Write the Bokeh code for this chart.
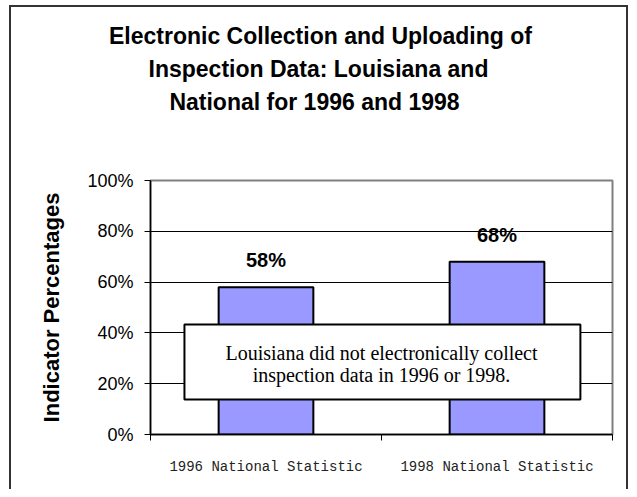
from bokeh.plotting import figure
from bokeh.models import (Range1d, FixedTicker, PrintfTickFormatter, Label, BoxAnnotation,
                          ColumnDataSource, Title)
from bokeh.core.properties import value
from bokeh.embed import file_html
from bokeh.resources import INLINE

# ---- data ----
categories = ["1996 National Statistic", "1998 National Statistic"]
values = [58, 68]
value_labels = ["58%", "68%"]
y_ticks = [0, 20, 40, 60, 80, 100]
title_lines = ["Electronic Collection and Uploading of",
               "Inspection Data: Louisiana and",
               "National for 1996 and 1998"]
note_lines = ["Louisiana did not electronically collect",
              "inspection data in 1996 or 1998."]
y_axis_title = "Indicator Percentages"

SANS = "Liberation Sans"
W, H = 629, 489
FRAME_L, FRAME_R, FRAME_T, FRAME_B = 150, 612, 180, 434

# advance widths (em/1000) of Liberation Sans Bold, for centring title lines
_BOLD_W = {" ": 278, "E": 667, "l": 278, "e": 556, "c": 556, "t": 333, "r": 389,
           "o": 611, "n": 611, "i": 278, "C": 722, "a": 556, "d": 611, "U": 722,
           "p": 611, "g": 611, "f": 333, "I": 278, "s": 556, "D": 722, ":": 333,
           "L": 611, "u": 611, "N": 722, "1": 556, "9": 556, "8": 556, "6": 556}


def text_width(s, size):
    return sum(_BOLD_W.get(ch, 556) for ch in s) / 1000.0 * size


xs = [i + 0.5 for i in range(len(categories))]
src = ColumnDataSource(dict(x=xs, top=values, lab=value_labels))

p = figure(width=W, height=H, output_backend="svg", toolbar_location=None,
           x_range=Range1d(0, len(categories)), y_range=Range1d(0, 100),
           min_border_left=FRAME_L, min_border_right=W - FRAME_R,
           min_border_top=FRAME_T, min_border_bottom=H - FRAME_B, tools="")
p.title.visible = False
p.background_fill_color = "white"
p.border_fill_alpha = 0
p.outline_line_color = "#808080"
p.outline_line_width = 2

# outer frame of the whole chart, drawn behind the (transparent) canvas border
bar_css = "linear-gradient(#333333,#333333)"
p.styles = {
    "background": (f"{bar_css} 9px 5px / 2px 600px no-repeat, "
                   f"{bar_css} 9px 5px / {W - 12}px 2px no-repeat, "
                   f"{bar_css} {W - 3}px 5px / 2px 600px no-repeat, white")
}

# bars
p.vbar(x="x", top="top", width=0.41, bottom=0, source=src,
       fill_color="#9999FF", line_color="black", line_width=2)

# value labels
p.text(x="x", y="top", text="lab", source=src, y_offset=-27,
       text_align="center", text_baseline="middle",
       text_font=value(SANS), text_font_style="bold", text_font_size="20px",
       text_color="black")

# axes
p.xaxis.ticker = FixedTicker(ticks=xs, minor_ticks=list(range(len(categories) + 1)))
p.xaxis.major_label_overrides = {x: c for x, c in zip(xs, categories)}
p.xaxis.major_tick_out = 0
p.xaxis.major_tick_in = 0
p.xaxis.minor_tick_out = 6
p.xaxis.minor_tick_in = 0
p.xaxis.minor_tick_line_color = "black"
p.xaxis.minor_tick_line_width = 1
p.xaxis.axis_line_color = "black"
p.xaxis.axis_line_width = 1.5
p.xaxis.major_label_text_font = "Liberation Mono"
p.xaxis.major_label_text_font_size = "14px"
p.xaxis.major_label_text_color = "#222222"
p.xaxis.major_label_standoff = 18

p.yaxis.ticker = FixedTicker(ticks=y_ticks)
p.yaxis.formatter = PrintfTickFormatter(format="%d%%")
p.yaxis.major_tick_out = 6
p.yaxis.major_tick_in = 0
p.yaxis.minor_tick_line_color = None
p.yaxis.major_tick_line_color = "black"
p.yaxis.axis_line_color = "black"
p.yaxis.axis_line_width = 1.5
p.yaxis.major_label_text_font = SANS
p.yaxis.major_label_text_font_size = "18px"
p.yaxis.major_label_text_color = "black"
p.yaxis.major_label_standoff = 11
p.yaxis.axis_label = y_axis_title
p.yaxis.axis_label_text_font = SANS
p.yaxis.axis_label_text_font_style = "bold"
p.yaxis.axis_label_text_font_size = "22px"
p.yaxis.axis_label_text_color = "black"
p.yaxis.axis_label_standoff = 20

p.xgrid.grid_line_color = None
p.ygrid.ticker = FixedTicker(ticks=y_ticks[1:-1])
p.ygrid.grid_line_color = "black"
p.ygrid.grid_line_width = 1

# note box
p.add_layout(BoxAnnotation(left=0.147, right=1.861, bottom=13.8, top=43.3,
                           fill_color="white", fill_alpha=1.0,
                           line_color="black", line_width=2, line_alpha=1.0))
for yy, t in zip([31.9, 23.6], note_lines):
    p.add_layout(Label(x=1.0, y=yy, text=t, text_align="center", text_baseline="middle",
                       text_font="Liberation Serif", text_font_size="20px",
                       text_color="black"))

# blank spacer between the frame and the title block
p.add_layout(Title(text=" ", standoff=50, text_font_size="10px",
                   text_color="white"), "above")

# title: three lines stacked outward from the spacer
TFS = 23
title_centres = [320, 318, 314]
for t, cx in zip(reversed(title_lines), reversed(title_centres)):
    p.add_layout(Title(text=t, align="left",
                       offset=cx - text_width(t, TFS) / 2 - FRAME_L, standoff=4.5,
                       text_font=SANS, text_font_style="bold",
                       text_font_size=f"{TFS}px", text_color="black"), "above")

open("out.html", "w").write(file_html(p, INLINE))
